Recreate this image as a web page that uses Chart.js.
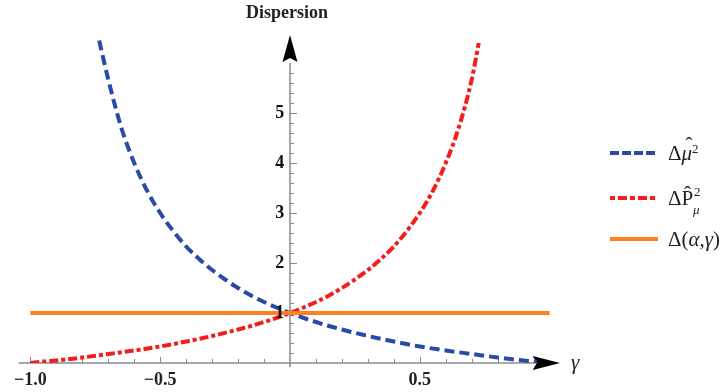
<!DOCTYPE html>
<html>
<head>
<meta charset="utf-8">
<script src="https://cdn.jsdelivr.net/npm/chart.js@4/dist/chart.umd.min.js"></script>
<style>
  html, body { margin: 0; padding: 0; background: #fff; }
  #wrap { position: relative; width: 723px; height: 392px; overflow: hidden; }
  #c { position: absolute; left: 0; top: 0; }
  .lbl { position: absolute; font-family: "Liberation Serif", "DejaVu Serif", serif; color: #222; white-space: nowrap; }
  .leg { position: absolute; font-family: "Liberation Serif", "DejaVu Serif", serif; font-size: 21px; color: #222; white-space: nowrap; line-height: 24px; }
  .sm { position: absolute; font-size: 13px; line-height: 13px; }
  .sw { position: absolute; }
</style>
</head>
<body>
<div id="wrap">
  <canvas id="c" width="723" height="392"></canvas>
  <div class="lbl" style="left:246px; top:2px; font-weight:bold; font-size:18px;">Dispersion</div>
  <div class="lbl" style="left:571px; top:350px; font-style:italic; font-size:21px;">γ</div>

  <svg class="sw" style="left:608px; top:147px;" width="52" height="12"><line x1="2" y1="6" x2="50" y2="6" stroke="#2b4aa8" stroke-width="4" stroke-dasharray="9,3"/></svg>
  <div class="leg" style="left:668px; top:141px;">Δ<span style="position:relative; display:inline-block;"><i>μ</i><span style="position:absolute; left:4px; top:-8px;">ˆ</span></span><span class="sm" style="left:24px; top:1px;">2</span></div>

  <svg class="sw" style="left:608px; top:192px;" width="52" height="12"><line x1="2" y1="6" x2="50" y2="6" stroke="#f51c1c" stroke-width="4" stroke-dasharray="5,3,9,3"/></svg>
  <div class="leg" style="left:668px; top:186px;">ΔP̂<span class="sm" style="left:26px; top:-1px;">2</span><span class="sm" style="left:25px; top:17px; font-style:italic;">μ</span></div>

  <svg class="sw" style="left:608px; top:233px;" width="52" height="12"><line x1="2" y1="6" x2="50" y2="6" stroke="#ff8020" stroke-width="4"/></svg>
  <div class="leg" style="left:668px; top:227px;">Δ(<i>α</i>,<i>γ</i>)</div>
</div>
<script>
// ---- data ----
const muGamma  = [-0.735, -0.70, -0.65, -0.60, -0.55, -0.50, -0.45, -0.40, -0.35, -0.30, -0.25, -0.20, -0.15, -0.10, -0.05, 0.00, 0.05, 0.10, 0.15, 0.20, 0.30, 0.40, 0.50, 0.60, 0.70, 0.80, 0.90, 0.95];
const muValues = [6.45, 5.67, 4.71, 4.00, 3.44, 3.00, 2.64, 2.33, 2.08, 1.86, 1.67, 1.50, 1.35, 1.22, 1.105, 1.00, 0.905, 0.82, 0.74, 0.67, 0.54, 0.43, 0.33, 0.25, 0.18, 0.11, 0.05, 0.03];

const pGamma  = [-1.00, -0.95, -0.90, -0.80, -0.70, -0.60, -0.50, -0.40, -0.30, -0.20, -0.15, -0.10, -0.05, 0.00, 0.05, 0.10, 0.15, 0.20, 0.25, 0.30, 0.35, 0.40, 0.45, 0.50, 0.55, 0.60, 0.65, 0.70, 0.727];
const pValues = [0.00, 0.03, 0.05, 0.11, 0.18, 0.25, 0.33, 0.43, 0.54, 0.67, 0.74, 0.82, 0.905, 1.00, 1.105, 1.22, 1.35, 1.50, 1.67, 1.86, 2.08, 2.33, 2.64, 3.00, 3.44, 4.00, 4.71, 5.67, 6.40];

const deltaGamma  = [-1.0, 1.0];
const deltaValues = [1.0, 1.0];

const xTickValues = [-1.0, -0.5, 0.5];
const xTickLabels = ["\u22121.0", "\u22120.5", "0.5"];
const yTickValues = [1, 2, 3, 4, 5];
const yTickLabels = ["1", "2", "3", "4", "5"];

const pts = (xs, ys) => xs.map((x, i) => ({x: x, y: ys[i]}));

const axesPlugin = {
  id: 'mmaAxes',
  beforeDatasetsDraw(chart) {
    const ctx = chart.ctx, xs = chart.scales.x, ys = chart.scales.y;
    const x0 = xs.getPixelForValue(0), y0 = ys.getPixelForValue(0);
    ctx.save();
    ctx.strokeStyle = '#8a8a8a';
    ctx.lineWidth = 1.5;
    ctx.beginPath();
    ctx.moveTo(xs.getPixelForValue(-1.045), y0);
    ctx.lineTo(xs.getPixelForValue(0.95), y0);
    ctx.moveTo(x0, ys.getPixelForValue(-0.08));
    ctx.lineTo(x0, ys.getPixelForValue(6.0));
    ctx.stroke();
    ctx.lineWidth = 1;
    ctx.beginPath();
    for (let k = -10; k <= 9; k++) {
      if (k === 0) continue;
      const px = Math.round(xs.getPixelForValue(k / 10)) + 0.5;
      const len = (k % 5 === 0) ? 6 : 4;
      ctx.moveTo(px, y0);
      ctx.lineTo(px, y0 - len);
    }
    for (let k = 1; k <= 29; k++) {
      const py = Math.round(ys.getPixelForValue(k / 5)) + 0.5;
      const len = (k % 5 === 0) ? 7 : 4;
      ctx.moveTo(x0, py);
      ctx.lineTo(x0 + len, py);
    }
    ctx.stroke();
    ctx.fillStyle = '#000';
    const yt = ys.getPixelForValue(6.56), yb = ys.getPixelForValue(6.02);
    ctx.beginPath();
    ctx.moveTo(x0, yt);
    ctx.lineTo(x0 + 7.5, yb);
    ctx.lineTo(x0, yb - 4);
    ctx.lineTo(x0 - 7.5, yb);
    ctx.closePath();
    ctx.fill();
    const xt = xs.getPixelForValue(1.04), xb = xs.getPixelForValue(0.935);
    ctx.beginPath();
    ctx.moveTo(xt, y0);
    ctx.lineTo(xb, y0 - 7);
    ctx.lineTo(xb + 4, y0);
    ctx.lineTo(xb, y0 + 7);
    ctx.closePath();
    ctx.fill();
    ctx.restore();
  }
};

new Chart(document.getElementById('c'), {
  type: 'line',
  data: {
    datasets: [
      { label: 'Δμ̂²', data: pts(muGamma, muValues), borderColor: '#2b4aa8', borderWidth: 4, borderDash: [10, 5], pointRadius: 0, cubicInterpolationMode: 'monotone', fill: false, order: 2 },
      { label: 'ΔP̂μ²', data: pts(pGamma, pValues), borderColor: '#f51c1c', borderWidth: 4, borderDash: [9, 3, 4, 3], pointRadius: 0, cubicInterpolationMode: 'monotone', fill: false, order: 3 },
      { label: 'Δ(α,γ)', data: pts(deltaGamma, deltaValues), borderColor: '#ff8020', borderWidth: 4, pointRadius: 0, fill: false, order: 1 }
    ]
  },
  options: {
    responsive: false,
    animation: false,
    devicePixelRatio: 1,
    layout: { padding: { left: 20, right: 163, top: 35, bottom: 29 } },
    plugins: { legend: { display: false }, tooltip: { enabled: false } },
    scales: {
      x: {
        type: 'linear', min: -1.04, max: 1.04,
        position: { y: 0 },
        border: { display: false },
        grid: { display: false },
        afterBuildTicks: (s) => { s.ticks = xTickValues.map(v => ({ value: v })); },
        ticks: {
          autoSkip: false, maxRotation: 0, padding: -1,
          color: '#222',
          font: { family: '"Liberation Serif", serif', size: 18, weight: 'bold' },
          callback: (v) => { const i = xTickValues.indexOf(Math.round(v * 10) / 10); return i >= 0 ? xTickLabels[i] : ''; }
        }
      },
      y: {
        type: 'linear', min: 0, max: 6.56,
        position: { x: -0.022 },
        border: { display: false },
        grid: { display: false },
        afterBuildTicks: (s) => { s.ticks = yTickValues.map(v => ({ value: v })); },
        ticks: {
          autoSkip: false, padding: 0, z: 1,
          color: '#111',
          font: { family: '"Liberation Serif", serif', size: 18, weight: 'bold' },
          callback: (v) => { const i = yTickValues.indexOf(Math.round(v)); return i >= 0 ? yTickLabels[i] : ''; }
        }
      }
    }
  },
  plugins: [axesPlugin]
});
</script>
</body>
</html>
